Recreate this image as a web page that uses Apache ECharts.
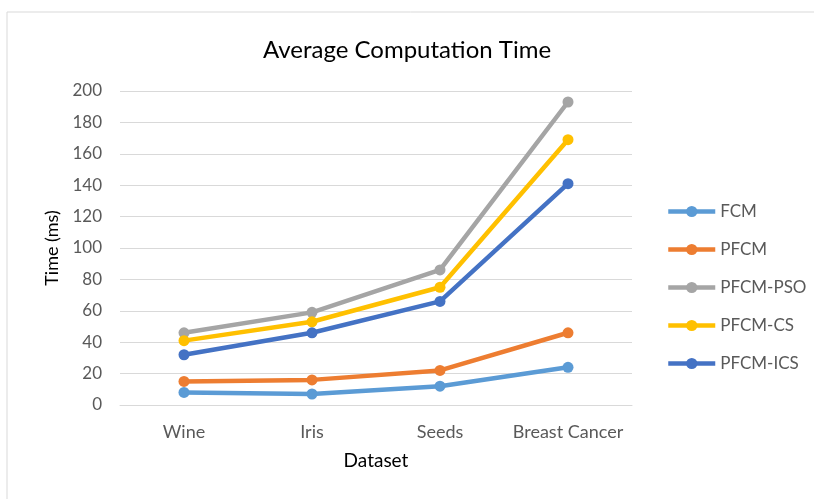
<!DOCTYPE html>
<html><head><meta charset="utf-8">
<script src="https://cdn.jsdelivr.net/npm/echarts@6/dist/echarts.min.js"></script>
<style>html,body{margin:0;padding:0;background:#fff}#c{width:814px;height:499px}</style>
</head><body><div id="c"></div>
<script>
const categories = ['Wine', 'Iris', 'Seeds', 'Breast Cancer'];
const seriesNames = ['FCM', 'PFCM', 'PFCM-PSO', 'PFCM-CS', 'PFCM-ICS'];
const fcm = [8, 7, 12, 24];
const pfcm = [15, 16, 22, 46];
const pfcmPso = [46, 59, 86, 193];
const pfcmCs = [41, 53, 75, 169];
const pfcmIcs = [32, 46, 66, 141];
const colors = ['#5B9BD5', '#ED7D31', '#A5A5A5', '#FFC000', '#4472C4'];
const values = [fcm, pfcm, pfcmPso, pfcmCs, pfcmIcs];
const FONT = 'Lato';

const chart = echarts.init(document.getElementById('c'), null, {renderer: 'canvas'});
chart.setOption({
  animation: false,
  backgroundColor: '#fff',
  title: {
    text: 'Average Computation Time', left: 'center', top: 33,
    textStyle: {fontFamily: FONT, fontSize: 24, fontWeight: 'normal', color: '#000'}
  },
  graphic: [
    {type: 'line', shape: {x1: 7, y1: 12, x2: 814, y2: 12}, style: {stroke: '#d9d9d9', lineWidth: 1}},
    {type: 'line', shape: {x1: 7, y1: 12, x2: 7, y2: 499}, style: {stroke: '#d9d9d9', lineWidth: 1}}
  ],
  grid: {left: 120, right: 182, top: 91, bottom: 94},
  legend: {
    orient: 'vertical', left: 661, top: 198,
    itemWidth: 47, itemHeight: 14, itemGap: 21,
    lineStyle: {width: 4.5},
    textStyle: {fontFamily: FONT, fontSize: 17, lineHeight: 17, color: '#595959'},
    data: seriesNames
  },
  xAxis: {
    type: 'category', data: categories, boundaryGap: true,
    name: 'Dataset', nameLocation: 'middle', nameGap: 46,
    nameTextStyle: {fontFamily: FONT, fontSize: 19, color: '#000'},
    axisLine: {lineStyle: {color: '#d9d9d9'}},
    axisTick: {show: false},
    axisLabel: {fontFamily: FONT, fontSize: 18, color: '#595959', margin: 18, interval: 0}
  },
  yAxis: {
    type: 'value', min: 0, max: 200, interval: 20,
    name: 'Time (ms)', nameLocation: 'middle', nameGap: 59,
    nameTextStyle: {fontFamily: FONT, fontSize: 18, color: '#000'},
    axisLine: {show: false}, axisTick: {show: false},
    axisLabel: {fontFamily: FONT, fontSize: 17, color: '#595959', margin: 18},
    splitLine: {lineStyle: {color: '#d9d9d9', width: 1}}
  },
  series: seriesNames.map((n, i) => ({
    name: n, type: 'line', data: values[i],
    symbol: 'circle', symbolSize: 11,
    lineStyle: {width: 4.5, color: colors[i]},
    itemStyle: {color: colors[i]}
  }))
});
</script></body></html>
